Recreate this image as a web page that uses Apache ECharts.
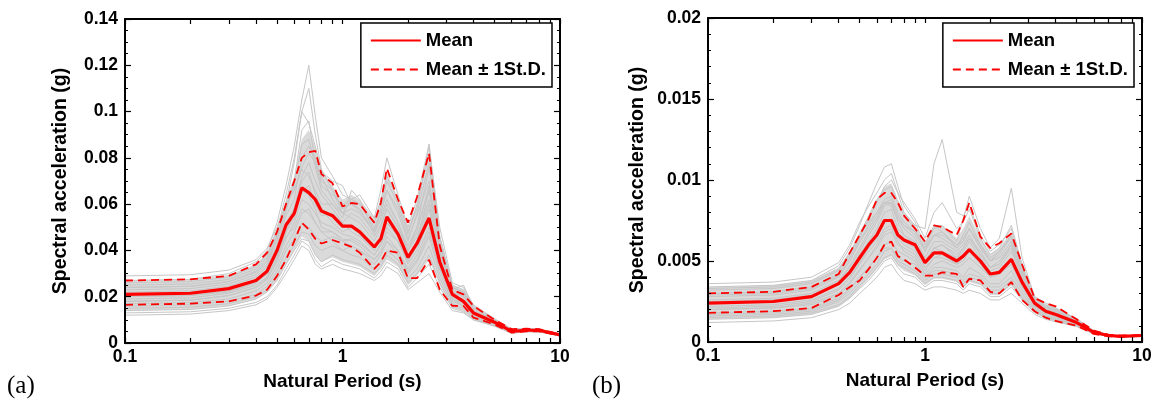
<!DOCTYPE html>
<html><head><meta charset="utf-8">
<script src="https://cdn.jsdelivr.net/npm/echarts@6/dist/echarts.min.js"></script>
<style>html,body{margin:0;padding:0;background:#fff}#c{width:1156px;height:408px}</style>
</head><body><div id="c"></div>
<script>
// Natural periods (s) shared by every curve
const periods = [0.1,0.2,0.3,0.4,0.45,0.5,0.55,0.6,0.65,0.7,0.75,0.8,0.9,1.0,1.1,1.2,1.4,1.5,1.6,1.8,2.0,2.2,2.5,2.8,3.2,3.6,4.0,5.0,6.0,7.0,8.0,10.0];
const xLabelValues = [0.1, 1, 10];
const xTickValues = [0.1,0.2,0.3,0.4,0.5,0.6,0.7,0.8,0.9,1,2,3,4,5,6,7,8,9,10];
const panelLabels = ['(a)', '(b)'];
const legendNames = ['Mean', 'Mean \u00b1 1St.D.'];

// ---- Panel (a) ----
const meanA  = [0.021,0.0215,0.0235,0.027,0.031,0.040,0.051,0.056,0.067,0.065,0.062,0.057,0.055,0.0505,0.0505,0.048,0.0415,0.045,0.0545,0.047,0.037,0.043,0.054,0.035,0.021,0.018,0.013,0.009,0.005,0.0055,0.0055,0.0035];
const upperA = [0.027,0.0275,0.029,0.034,0.039,0.048,0.060,0.070,0.080,0.0825,0.083,0.073,0.069,0.059,0.0605,0.060,0.052,0.0605,0.0755,0.062,0.052,0.063,0.082,0.042,0.023,0.021,0.016,0.010,0.006,0.0062,0.006,0.0037];
const lowerA = [0.0165,0.017,0.018,0.0205,0.023,0.029,0.036,0.044,0.052,0.049,0.045,0.043,0.0445,0.043,0.0415,0.039,0.032,0.035,0.040,0.039,0.028,0.028,0.036,0.023,0.016,0.016,0.011,0.008,0.0045,0.005,0.005,0.0033];
// dense core of the record cloud (upper / lower edge)
const cloudHighA = [0.027,0.0275,0.0295,0.034,0.039,0.049,0.062,0.072,0.088,0.092,0.085,0.075,0.068,0.062,0.064,0.062,0.054,0.062,0.074,0.062,0.05,0.06,0.082,0.045,0.025,0.023,0.016,0.0105,0.006,0.006,0.006,0.0038];
const cloudLowA  = [0.014,0.0145,0.016,0.019,0.022,0.027,0.034,0.04,0.046,0.044,0.038,0.035,0.037,0.035,0.034,0.033,0.029,0.032,0.036,0.033,0.025,0.029,0.036,0.025,0.015,0.014,0.0105,0.0075,0.0044,0.005,0.005,0.0032];
const recordsA = [
 [0.027,0.0275,0.03,0.035,0.04,0.052,0.068,0.085,0.105,0.12,0.098,0.08,0.072,0.064,0.062,0.06,0.05,0.056,0.066,0.058,0.045,0.055,0.07,0.042,0.024,0.022,0.015,0.01,0.006,0.006,0.006,0.004],
 [0.024,0.0245,0.0265,0.031,0.036,0.046,0.06,0.078,0.1,0.11,0.09,0.075,0.066,0.058,0.06,0.058,0.047,0.054,0.062,0.052,0.042,0.05,0.066,0.04,0.022,0.02,0.014,0.0095,0.0055,0.006,0.0055,0.0038],
 [0.026,0.0265,0.0285,0.033,0.038,0.049,0.064,0.08,0.1,0.095,0.085,0.074,0.07,0.068,0.06,0.057,0.049,0.058,0.07,0.06,0.047,0.06,0.082,0.046,0.025,0.023,0.016,0.01,0.006,0.0062,0.006,0.0038],
 [0.023,0.0235,0.0255,0.0295,0.034,0.044,0.057,0.07,0.092,0.096,0.078,0.068,0.064,0.06,0.062,0.06,0.052,0.062,0.072,0.062,0.048,0.058,0.085,0.05,0.026,0.024,0.0165,0.0105,0.006,0.006,0.0058,0.0037],
 [0.022,0.0225,0.0245,0.0285,0.033,0.042,0.055,0.062,0.08,0.085,0.08,0.07,0.066,0.056,0.058,0.056,0.048,0.053,0.06,0.052,0.04,0.05,0.076,0.044,0.023,0.021,0.015,0.0095,0.0055,0.0058,0.0056,0.0036],
 [0.02,0.0205,0.0225,0.026,0.03,0.039,0.05,0.058,0.072,0.078,0.07,0.064,0.058,0.052,0.056,0.054,0.046,0.051,0.058,0.05,0.04,0.048,0.068,0.04,0.022,0.02,0.014,0.009,0.0052,0.0055,0.0055,0.0035],
 [0.029,0.0295,0.0315,0.036,0.041,0.05,0.06,0.066,0.075,0.072,0.066,0.06,0.06,0.056,0.062,0.064,0.054,0.066,0.08,0.064,0.05,0.062,0.086,0.046,0.024,0.022,0.015,0.0095,0.0055,0.0058,0.0056,0.0036],
 [0.019,0.0195,0.0215,0.025,0.0285,0.037,0.048,0.054,0.066,0.068,0.06,0.055,0.056,0.052,0.048,0.046,0.04,0.045,0.052,0.046,0.036,0.044,0.06,0.038,0.021,0.018,0.013,0.009,0.005,0.0054,0.0054,0.0034],
 [0.018,0.0185,0.0205,0.024,0.0275,0.035,0.045,0.052,0.062,0.06,0.056,0.052,0.05,0.047,0.046,0.044,0.038,0.043,0.05,0.044,0.034,0.04,0.054,0.034,0.02,0.017,0.0125,0.0085,0.0048,0.0053,0.0053,0.0034],
 [0.017,0.0175,0.019,0.0225,0.026,0.033,0.042,0.048,0.056,0.058,0.052,0.048,0.048,0.045,0.044,0.042,0.036,0.04,0.046,0.04,0.032,0.038,0.05,0.032,0.019,0.016,0.012,0.0085,0.0048,0.0052,0.0052,0.0033],
 [0.016,0.0165,0.018,0.021,0.0245,0.031,0.04,0.045,0.052,0.05,0.046,0.044,0.046,0.044,0.042,0.04,0.034,0.038,0.044,0.038,0.03,0.035,0.046,0.03,0.018,0.016,0.0115,0.008,0.0046,0.0051,0.0052,0.0033],
 [0.015,0.0155,0.017,0.02,0.023,0.029,0.037,0.042,0.048,0.047,0.042,0.04,0.042,0.04,0.038,0.037,0.032,0.035,0.04,0.036,0.028,0.032,0.042,0.028,0.017,0.015,0.011,0.008,0.0045,0.005,0.005,0.0032],
 [0.014,0.0145,0.016,0.019,0.022,0.027,0.034,0.04,0.045,0.044,0.038,0.035,0.038,0.036,0.035,0.034,0.03,0.033,0.038,0.034,0.026,0.03,0.038,0.026,0.016,0.014,0.0105,0.0075,0.0044,0.005,0.005,0.0032],
 [0.013,0.0135,0.015,0.0175,0.02,0.025,0.032,0.038,0.044,0.042,0.036,0.033,0.036,0.034,0.033,0.032,0.028,0.031,0.035,0.032,0.024,0.028,0.034,0.024,0.015,0.0135,0.01,0.0075,0.0043,0.0049,0.0049,0.0031],
 [0.012,0.0125,0.014,0.0165,0.019,0.024,0.03,0.036,0.042,0.04,0.034,0.032,0.034,0.032,0.031,0.03,0.027,0.029,0.033,0.03,0.023,0.026,0.03,0.022,0.014,0.013,0.01,0.0072,0.0042,0.0048,0.0048,0.0031],
 [0.025,0.0255,0.0275,0.032,0.037,0.047,0.06,0.066,0.076,0.082,0.078,0.072,0.062,0.056,0.054,0.052,0.044,0.05,0.058,0.05,0.04,0.046,0.062,0.04,0.023,0.025,0.015,0.01,0.0058,0.006,0.0058,0.0037],
 [0.021,0.0215,0.0235,0.027,0.031,0.04,0.052,0.058,0.07,0.074,0.064,0.058,0.052,0.048,0.05,0.047,0.04,0.045,0.052,0.046,0.036,0.044,0.066,0.04,0.022,0.02,0.014,0.009,0.0052,0.0056,0.0056,0.0035],
 [0.018,0.0185,0.0205,0.024,0.028,0.036,0.048,0.056,0.066,0.064,0.058,0.05,0.048,0.044,0.045,0.043,0.038,0.042,0.048,0.044,0.035,0.042,0.058,0.036,0.02,0.019,0.013,0.0088,0.005,0.0054,0.0054,0.0034],
 [0.024,0.0245,0.0265,0.0305,0.035,0.045,0.058,0.068,0.086,0.088,0.076,0.066,0.06,0.054,0.066,0.062,0.048,0.056,0.066,0.056,0.044,0.056,0.078,0.044,0.024,0.022,0.015,0.0095,0.0056,0.0058,0.0058,0.0037],
 [0.02,0.0205,0.022,0.026,0.03,0.038,0.046,0.05,0.058,0.056,0.052,0.048,0.044,0.04,0.042,0.04,0.036,0.039,0.044,0.04,0.031,0.036,0.048,0.032,0.019,0.017,0.0125,0.0085,0.005,0.0053,0.0053,0.0034]
];

// ---- Panel (b) ----
const meanB  = [0.0024,0.0025,0.0028,0.0036,0.0043,0.0052,0.006,0.0066,0.0075,0.0075,0.0066,0.0063,0.006,0.0049,0.0055,0.0055,0.005,0.0053,0.0057,0.005,0.0042,0.0043,0.0051,0.0037,0.0024,0.0019,0.0017,0.0012,0.0006,0.0004,0.00035,0.0004];
const upperB = [0.003,0.0031,0.0034,0.0042,0.0055,0.0066,0.0076,0.0088,0.0092,0.0092,0.0086,0.0078,0.007,0.0062,0.0072,0.0071,0.0066,0.0075,0.0086,0.0065,0.0058,0.0061,0.0067,0.0048,0.0027,0.0024,0.0022,0.0014,0.0007,0.00045,0.0004,0.00042];
const lowerB = [0.0018,0.0019,0.0021,0.0029,0.0034,0.0038,0.0045,0.0052,0.006,0.0062,0.0053,0.0051,0.0046,0.0041,0.0041,0.0043,0.0042,0.0034,0.0039,0.0038,0.0031,0.003,0.0037,0.0026,0.0019,0.0015,0.0013,0.001,0.0005,0.00035,0.00032,0.00038];
const cloudHighB = [0.0034,0.0035,0.0038,0.0046,0.0056,0.0068,0.0078,0.0088,0.0096,0.0098,0.0088,0.008,0.0072,0.0062,0.0072,0.0072,0.0064,0.007,0.0078,0.0064,0.0054,0.0058,0.0068,0.0047,0.0027,0.0023,0.0021,0.0014,0.00068,0.00043,0.00039,0.00042];
const cloudLowB  = [0.0014,0.0015,0.0017,0.0022,0.0027,0.0033,0.0039,0.0045,0.0051,0.0053,0.0047,0.0044,0.0041,0.0035,0.0039,0.0039,0.0037,0.0033,0.0037,0.0035,0.0029,0.0029,0.0035,0.0026,0.0018,0.0015,0.0013,0.001,0.00052,0.00036,0.00032,0.00038];
const recordsB = [
 [0.003,0.0031,0.0034,0.0042,0.0052,0.0064,0.0076,0.0086,0.0096,0.01,0.0092,0.008,0.0072,0.007,0.011,0.0125,0.008,0.0078,0.0084,0.0066,0.0056,0.006,0.007,0.0046,0.0026,0.0022,0.0019,0.0013,0.00065,0.00042,0.00038,0.00042],
 [0.0034,0.0035,0.0038,0.0047,0.0058,0.0072,0.0086,0.0098,0.0108,0.011,0.0096,0.0084,0.0074,0.006,0.0072,0.0068,0.006,0.0062,0.007,0.0058,0.005,0.0056,0.0064,0.0044,0.0027,0.0022,0.002,0.00135,0.00065,0.00042,0.00038,0.00042],
 [0.0028,0.0029,0.0032,0.004,0.005,0.0062,0.0072,0.008,0.0088,0.009,0.008,0.0074,0.0068,0.0058,0.007,0.0072,0.0062,0.0076,0.009,0.007,0.0058,0.0064,0.0095,0.0052,0.0028,0.0024,0.0021,0.0014,0.00068,0.00043,0.00038,0.00041],
 [0.0036,0.0037,0.004,0.0049,0.006,0.0074,0.0084,0.0092,0.01,0.0104,0.0092,0.0086,0.0076,0.0064,0.008,0.0086,0.007,0.0074,0.0082,0.0064,0.0054,0.0058,0.0072,0.0048,0.0028,0.0023,0.0021,0.00145,0.0007,0.00044,0.0004,0.00043],
 [0.0026,0.0027,0.003,0.0038,0.0047,0.0058,0.0068,0.0076,0.0086,0.0088,0.0078,0.0072,0.0066,0.0056,0.0066,0.0068,0.0058,0.0066,0.0074,0.006,0.005,0.0054,0.0066,0.0044,0.0026,0.0021,0.0019,0.0013,0.00064,0.00041,0.00036,0.00041],
 [0.0022,0.0023,0.0026,0.0033,0.004,0.0049,0.0058,0.0064,0.0074,0.0076,0.0066,0.0062,0.0058,0.0048,0.0058,0.006,0.0052,0.0058,0.0064,0.0054,0.0046,0.0048,0.0058,0.004,0.0024,0.0019,0.0017,0.0012,0.0006,0.0004,0.00035,0.0004],
 [0.002,0.0021,0.0024,0.003,0.0037,0.0045,0.0052,0.0058,0.0066,0.0068,0.006,0.0058,0.0054,0.0044,0.0052,0.0054,0.0048,0.0052,0.0058,0.005,0.0042,0.0044,0.0052,0.0036,0.0023,0.0018,0.0016,0.00115,0.00058,0.00039,0.00035,0.00039],
 [0.0018,0.0019,0.0021,0.0027,0.0033,0.004,0.0046,0.0052,0.006,0.0062,0.0056,0.0054,0.005,0.004,0.0046,0.0046,0.0044,0.004,0.0046,0.0042,0.0036,0.0036,0.0044,0.0032,0.0021,0.0017,0.0015,0.0011,0.00056,0.00038,0.00034,0.00039],
 [0.0016,0.0017,0.0019,0.0025,0.003,0.0037,0.0042,0.0048,0.0056,0.0058,0.005,0.0048,0.0044,0.0038,0.0042,0.0042,0.004,0.0036,0.004,0.0038,0.0032,0.0032,0.0038,0.0028,0.002,0.0016,0.0014,0.00105,0.00054,0.00037,0.00033,0.00038],
 [0.0014,0.0015,0.0017,0.0022,0.0027,0.0033,0.0038,0.0044,0.005,0.0052,0.0046,0.0042,0.004,0.0034,0.0038,0.0038,0.0036,0.0032,0.0036,0.0034,0.0028,0.0028,0.0034,0.0026,0.0018,0.0015,0.0013,0.001,0.00052,0.00036,0.00032,0.00038],
 [0.0012,0.0013,0.0015,0.002,0.0024,0.003,0.0035,0.004,0.0046,0.0048,0.0042,0.0038,0.0036,0.0032,0.0034,0.0034,0.0032,0.003,0.0032,0.003,0.0026,0.0026,0.003,0.0024,0.0017,0.0014,0.00125,0.00095,0.0005,0.00035,0.00032,0.00037],
 [0.0024,0.0025,0.0028,0.0036,0.0044,0.0054,0.0062,0.007,0.008,0.0082,0.007,0.0066,0.0062,0.005,0.0058,0.0056,0.0052,0.0056,0.0062,0.0052,0.0044,0.0046,0.0056,0.004,0.0025,0.002,0.0018,0.00125,0.00062,0.0004,0.00036,0.0004],
 [0.0032,0.0033,0.0036,0.0044,0.0054,0.0066,0.0078,0.0088,0.0094,0.0096,0.0086,0.0078,0.007,0.0056,0.0066,0.0064,0.0058,0.0062,0.007,0.0058,0.005,0.0052,0.0062,0.0042,0.0026,0.0021,0.0019,0.0013,0.00064,0.00042,0.00037,0.00041],
 [0.002,0.0021,0.0023,0.0029,0.0036,0.0044,0.0052,0.006,0.0068,0.007,0.0062,0.0056,0.0052,0.0042,0.0048,0.005,0.0046,0.0048,0.0052,0.0046,0.004,0.0042,0.005,0.0036,0.0022,0.0018,0.0016,0.00115,0.00058,0.00039,0.00035,0.00039],
 [0.0029,0.003,0.0033,0.0041,0.005,0.0062,0.007,0.0078,0.0086,0.0086,0.0076,0.007,0.0064,0.0052,0.0062,0.0062,0.0056,0.006,0.0066,0.0054,0.0046,0.0048,0.006,0.0042,0.0025,0.0021,0.0019,0.0013,0.00063,0.00041,0.00037,0.00041],
 [0.0017,0.0018,0.002,0.0026,0.0032,0.004,0.0046,0.0052,0.0058,0.0058,0.0052,0.005,0.0048,0.004,0.0044,0.0044,0.0042,0.0038,0.0042,0.004,0.0034,0.0034,0.004,0.003,0.002,0.0016,0.00145,0.0011,0.00055,0.00038,0.00034,0.00039],
 [0.0025,0.0026,0.0029,0.0037,0.0046,0.0056,0.0066,0.0074,0.0084,0.0086,0.0074,0.0066,0.006,0.005,0.0058,0.006,0.0054,0.0058,0.0064,0.0056,0.0046,0.005,0.006,0.0042,0.0025,0.002,0.0018,0.00125,0.00062,0.0004,0.00036,0.0004],
 [0.0021,0.0022,0.0025,0.0032,0.0039,0.0048,0.0056,0.0062,0.007,0.0072,0.0064,0.006,0.0056,0.0046,0.0052,0.0052,0.0048,0.005,0.0056,0.0048,0.004,0.0042,0.0048,0.0034,0.0022,0.0018,0.0016,0.00115,0.00058,0.00039,0.00035,0.00039],
 [0.0033,0.0034,0.0037,0.0045,0.0055,0.0066,0.0074,0.008,0.0086,0.0084,0.0076,0.0072,0.0068,0.0058,0.0066,0.0066,0.006,0.0064,0.007,0.006,0.0052,0.0056,0.0066,0.0046,0.0027,0.0022,0.002,0.00135,0.00066,0.00042,0.00038,0.00042],
 [0.0015,0.0016,0.0018,0.0023,0.0028,0.0035,0.004,0.0046,0.0052,0.0054,0.0048,0.0046,0.0042,0.0036,0.004,0.004,0.0038,0.0034,0.0038,0.0036,0.003,0.003,0.0036,0.0027,0.0019,0.0015,0.00135,0.001,0.00053,0.00037,0.00033,0.00038]
];

const FONT = "'Liberation Sans', Arial, Helvetica, sans-serif";
const RED = '#ff0000';
const GRAY = '#c6c6c6';
const CLOUD = '#dadada';

function pairs(vals) { return periods.map((t, i) => [t, vals[i]]); }

const grids = [
  { left: 125, top: 19, width: 435, height: 324 },
  { left: 708, top: 18, width: 434, height: 324 }
];

function xAxes(gi) {
  const base = {
    gridIndex: gi, type: 'log', logBase: 10, min: 0.1, max: 10, z: 10,
    axisLine: { show: true, onZero: false, lineStyle: { color: '#000', width: 2 } },
    axisTick: { show: true, inside: true, length: 5, customValues: xTickValues, lineStyle: { color: '#000', width: 1.2 } },
    splitLine: { show: false }, minorTick: { show: false }
  };
  return [
    Object.assign({}, base, {
      position: 'bottom',
      axisLabel: { show: true, customValues: xLabelValues, margin: 5, formatter: v => String(v),
        fontFamily: FONT, fontWeight: 'bold', fontSize: 17.5, color: '#000' },
      name: 'Natural Period (s)', nameLocation: 'middle', nameGap: 29,
      nameTextStyle: { fontFamily: FONT, fontWeight: 'bold', fontSize: 19, color: '#000' }
    }),
    Object.assign({}, base, { position: 'top', axisLabel: { show: false } })
  ];
}

function yAxes(gi, max, interval, minorSplit, nameGap) {
  const base = {
    gridIndex: gi, type: 'value', min: 0, max: max, interval: interval, z: 10,
    axisLine: { show: true, onZero: false, lineStyle: { color: '#000', width: 2 } },
    axisTick: { show: true, inside: true, length: 6, lineStyle: { color: '#000', width: 1.2 } },
    minorTick: { show: true, splitNumber: minorSplit, length: 3, lineStyle: { color: '#000', width: 1 } },
    splitLine: { show: false }
  };
  return [
    Object.assign({}, base, {
      position: 'left',
      axisLabel: { show: true, margin: 7, fontFamily: FONT, fontWeight: 'bold', fontSize: 17.5, color: '#000' },
      name: 'Spectral acceleration (g)', nameLocation: 'middle', nameGap: nameGap,
      nameTextStyle: { fontFamily: FONT, fontWeight: 'bold', fontSize: 19.5, color: '#000' }
    }),
    Object.assign({}, base, { position: 'right', axisLabel: { show: false } })
  ];
}

function panelSeries(gi, records, mean, upper, lower, cloudHigh, cloudLow) {
  const xi = gi * 2, yi = gi * 2;
  const out = [];
  // dense cloud core: grey fill under the high edge, white fill under the low edge
  out.push({ type: 'line', name: 'cloud' + gi, xAxisIndex: xi, yAxisIndex: yi, data: pairs(cloudHigh),
    symbol: 'none', silent: true, z: 1, lineStyle: { width: 0, color: CLOUD }, areaStyle: { color: CLOUD, opacity: 1 } });
  out.push({ type: 'line', name: 'mask' + gi, xAxisIndex: xi, yAxisIndex: yi, data: pairs(cloudLow),
    symbol: 'none', silent: true, z: 1, lineStyle: { width: 0, color: '#fff' }, areaStyle: { color: '#fff', opacity: 1 } });
  records.forEach((r, k) => out.push({
    type: 'line', name: 'record' + (gi + 1) + '-' + (k + 1), xAxisIndex: xi, yAxisIndex: yi,
    data: pairs(r), symbol: 'none', silent: true, z: 2,
    lineStyle: { color: GRAY, width: 1 }, itemStyle: { color: GRAY }
  }));
  [upper, lower].forEach(arr => out.push({
    type: 'line', name: legendNames[1], xAxisIndex: xi, yAxisIndex: yi, data: pairs(arr),
    symbol: 'none', z: 4, lineStyle: { color: RED, width: 1.8, type: [8, 5] }, itemStyle: { color: RED }
  }));
  out.push({
    type: 'line', name: legendNames[0], xAxisIndex: xi, yAxisIndex: yi, data: pairs(mean),
    symbol: 'none', z: 5, lineStyle: { color: RED, width: 3.2 }, itemStyle: { color: RED }
  });
  return out;
}

function legendFor(rightPx) {
  return {
    data: legendNames, orient: 'vertical', right: rightPx, top: 23, z: 12,
    itemWidth: 50, itemHeight: 14, itemGap: 10, padding: [8, 6, 8, 9],
    borderColor: '#000', borderWidth: 1.5, backgroundColor: '#fff', selectedMode: false,
    itemStyle: { opacity: 0, borderWidth: 0 },
    textStyle: { fontFamily: FONT, fontWeight: 'bold', fontSize: 18.5, color: '#000' }
  };
}

const chart = echarts.init(document.getElementById('c'), null, { renderer: 'canvas' });
chart.setOption({
  backgroundColor: '#fff',
  animation: false,
  grid: grids,
  xAxis: xAxes(0).concat(xAxes(1)),
  yAxis: yAxes(0, 0.14, 0.02, 4, 54).concat(yAxes(1, 0.02, 0.005, 5, 60)),
  legend: [legendFor(604), legendFor(22)],
  series: panelSeries(0, recordsA, meanA, upperA, lowerA, cloudHighA, cloudLowA)
    .concat(panelSeries(1, recordsB, meanB, upperB, lowerB, cloudHighB, cloudLowB)),
  graphic: [
    { type: 'text', left: 7, top: 374, style: { text: panelLabels[0], font: "25px 'Liberation Serif', 'Times New Roman', serif", fill: '#000' } },
    { type: 'text', left: 592, top: 374, style: { text: panelLabels[1], font: "25px 'Liberation Serif', 'Times New Roman', serif", fill: '#000' } }
  ]
});
</script></body></html>
